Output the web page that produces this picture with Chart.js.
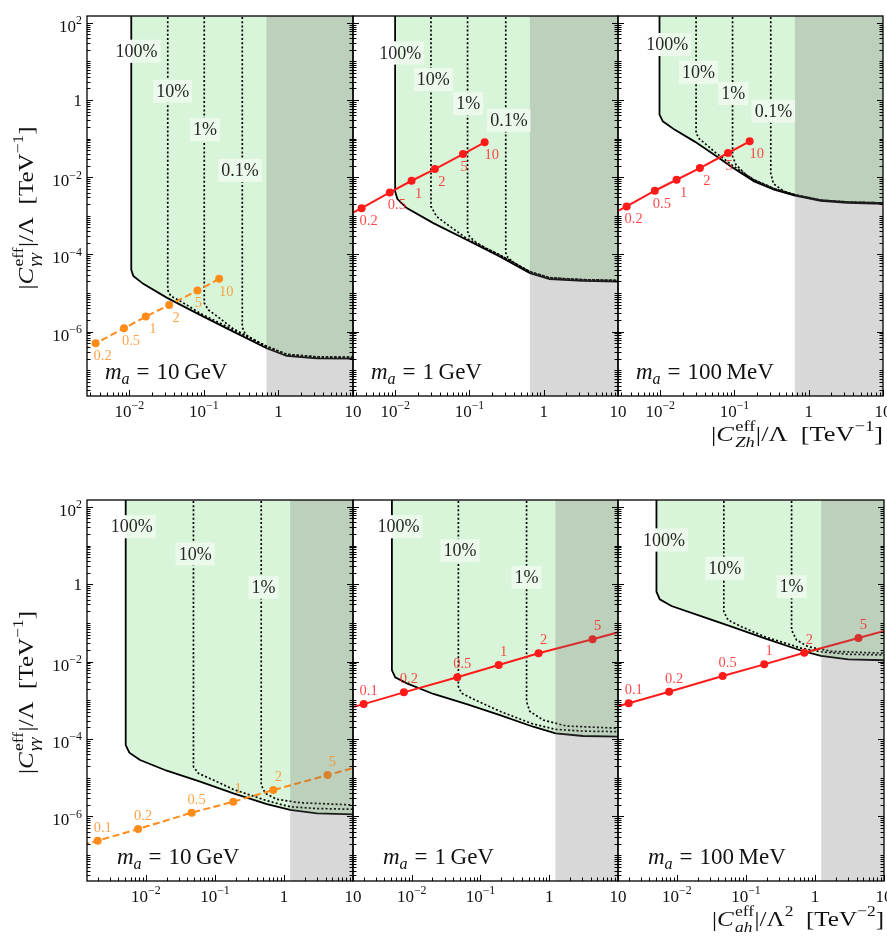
<!DOCTYPE html>
<html><head><meta charset="utf-8">
<script src="https://cdn.jsdelivr.net/npm/chart.js@4.4.1/dist/chart.umd.min.js"></script>
<style>
html,body{margin:0;padding:0;background:#fff;}
#wrap{position:relative;width:887px;height:938px;overflow:hidden;}
#wrap canvas{position:absolute;left:0;top:0;}
</style></head><body><div id="wrap"></div>
<script>
// ================= DATA =================
// axis ranges
const zhAxisRange = [2.7e-3, 10];      // |C_Zh|/Lambda  [TeV^-1]  (top row)
const ahAxisRange = [1.4e-3, 10];      // |C_ah|/Lambda^2 [TeV^-2] (bottom row)
const gammaAxisRange = [2.15e-8, 150]; // |C_gg|/Lambda [TeV^-1]
const xTickValues = [1e-2, 1e-1, 1, 10];
const xTickText = [['10','−2'],['10','−1'],['1',''],['10','']];
const yTickValues = [1e2, 1, 1e-2, 1e-4, 1e-6];
const yTickText = [['10','2'],['1',''],['10','−2'],['10','−4'],['10','−6']];
const massLabels = ['10\u2009GeV', '1\u2009GeV', '100\u2009MeV'];

// benchmark lines (top row: x = C_Zh, markers labelled by parameter)
const zhParam = ['0.2','0.5','1','2','5','10'];
const zhCoupling = [3.53e-3, 8.46e-3, 0.0166, 0.0342, 0.0818, 0.160];
const zhLeadIn = 1.77e-3;
const cggZh10GeV  = [2.5e-7, 5.0e-7, 1.22e-6, 2.45e-6, 4.92e-6, 1.16e-5, 2.33e-5];
const cggZh1GeV   = [7.9e-4, 1.58e-3, 4.03e-3, 8.1e-3, 0.0163, 0.0399, 0.080];
const cggZh100MeV = [8.75e-4, 1.75e-3, 4.46e-3, 8.6e-3, 0.0173, 0.0424, 0.0848];

// bottom row: x = C_ah
const ahParam = ['0.1','0.2','0.5','1','2','5'];
const ahCoupling = [2.0e-3, 7.7e-3, 0.046, 0.184, 0.70, 4.27];
const ahLeadIn = 1.2e-3, ahTail = 11.5;
const cggAh10GeV  = [1.82e-7, 2.36e-7, 4.73e-7, 1.25e-6, 2.4e-6, 4.81e-6, 1.17e-5, 1.9e-5];
const cggAh1GeV   = [6.2e-4, 8.0e-4, 1.61e-3, 3.93e-3, 8.2e-3, 0.0164, 0.0377, 0.061];
const cggAh100MeV = [6.5e-4, 8.4e-4, 1.67e-3, 4.25e-3, 8.5e-3, 0.017, 0.0407, 0.066];

// sensitivity boundaries (100%) and contours (10%, 1%, 0.1%)  [x, y]
const boundZh10GeV = [[0.0106,300],[0.0106,4.0e-5],[0.01127,2.78e-5],[0.01535,1.73e-5],[0.0316,7.6e-6],[0.0885,2.71e-6],[0.248,1.0e-6],[0.695,3.7e-7],[1.29,2.34e-7],[3.26,2.04e-7],[10.5,2.0e-7]];
const c10Zh10GeV  = [[0.0327,300],[0.0327,1.2e-5],[0.0358,8.4e-6],[0.0478,6.25e-6],[0.0885,3.0e-6],[0.248,1.12e-6],[0.695,4.1e-7],[1.29,2.55e-7],[3.26,2.2e-7],[10.5,2.15e-7]];
const c1Zh10GeV   = [[0.101,300],[0.101,5.5e-6],[0.1146,3.66e-6],[0.164,2.2e-6],[0.248,1.18e-6],[0.695,4.2e-7],[1.29,2.6e-7],[3.26,2.22e-7],[10.5,2.17e-7]];
const c01Zh10GeV  = [[0.327,300],[0.327,1.3e-6],[0.36,8.5e-7],[0.45,6.2e-7],[0.695,4.1e-7],[1.29,2.55e-7],[3.26,2.2e-7],[10.5,2.15e-7]];

const boundZh1GeV = [[0.00997,300],[0.00997,4.28e-3],[0.0107,2.72e-3],[0.0143,1.58e-3],[0.0326,6.47e-4],[0.0914,2.39e-4],[0.255,8.8e-5],[0.652,3.27e-5],[1.2,2.29e-5],[3.35,2.07e-5],[10.5,1.98e-5]];
const c10Zh1GeV  = [[0.0303,300],[0.0303,1.75e-3],[0.0361,9.6e-4],[0.0546,5.3e-4],[0.0914,2.6e-4],[0.255,9.6e-5],[0.652,3.55e-5],[1.2,2.45e-5],[3.35,2.2e-5],[10.5,2.1e-5]];
const c1Zh1GeV   = [[0.0942,300],[0.0942,4.0e-4],[0.1,2.9e-4],[0.12,2.1e-4],[0.16,1.5e-4],[0.255,9.7e-5],[0.652,3.6e-5],[1.2,2.5e-5],[3.35,2.22e-5],[10.5,2.12e-5]];
const c01Zh1GeV  = [[0.308,300],[0.308,1.1e-4],[0.33,8.2e-5],[0.4,6.0e-5],[0.525,4.4e-5],[0.652,3.5e-5],[1.2,2.45e-5],[3.35,2.2e-5],[10.5,2.1e-5]];

const boundZh100MeV = [[0.00978,300],[0.00978,0.418],[0.01084,0.28],[0.01556,0.171],[0.0288,0.0848],[0.0535,0.0383],[0.0897,0.019],[0.184,7.8e-3],[0.342,4.73e-3],[0.653,3.31e-3],[1.45,2.45e-3],[3.29,2.18e-3],[10.5,2.05e-3]];
const c10Zh100MeV  = [[0.0304,300],[0.0304,0.14],[0.0337,0.0977],[0.0436,0.0656],[0.0535,0.046],[0.0897,0.0215],[0.184,8.4e-3],[0.342,5.05e-3],[0.653,3.5e-3],[1.45,2.55e-3],[3.29,2.28e-3],[10.5,2.15e-3]];
const c1Zh100MeV   = [[0.0942,300],[0.0942,0.0347],[0.1047,0.0211],[0.1426,0.0116],[0.184,8.6e-3],[0.342,5.1e-3],[0.653,3.5e-3],[1.45,2.55e-3],[3.29,2.28e-3],[10.5,2.15e-3]];
const c01Zh100MeV  = [[0.308,300],[0.308,0.0128],[0.334,6.8e-3],[0.466,4.28e-3],[0.653,3.5e-3],[1.45,2.55e-3],[3.29,2.28e-3],[10.5,2.15e-3]];

const boundAh10GeV = [[5.09e-3,300],[5.09e-3,7.0e-5],[5.75e-3,4.43e-5],[8.22e-3,2.87e-5],[0.02,1.52e-5],[0.061,7.9e-6],[0.185,3.95e-6],[0.566,2.09e-6],[1.23,1.47e-6],[3.0,1.2e-6],[11,1.13e-6]];
const c10Ah10GeV  = [[0.0488,300],[0.0488,1.93e-5],[0.0575,1.3e-5],[0.095,8.7e-6],[0.185,5.0e-6],[0.566,2.55e-6],[1.23,1.78e-6],[3.0,1.6e-6],[11,1.53e-6]];
const c1Ah10GeV   = [[0.468,300],[0.468,6.5e-6],[0.535,3.95e-6],[0.79,2.77e-6],[1.72,2.26e-6],[11,1.97e-6]];

const boundAh1GeV = [[5.15e-3,300],[5.15e-3,6.07e-3],[5.75e-3,3.93e-3],[8.5e-3,2.75e-3],[0.0207,1.46e-3],[0.063,8.0e-4],[0.192,4.17e-4],[0.583,2.08e-4],[1.24,1.4e-4],[3.1,1.2e-4],[11,1.15e-4]];
const c10Ah1GeV  = [[0.0477,300],[0.0477,2.25e-3],[0.0533,1.52e-3],[0.088,9.8e-4],[0.192,5.2e-4],[0.583,2.45e-4],[1.24,1.78e-4],[3.1,1.6e-4],[11,1.55e-4]];
const c1Ah1GeV   = [[0.468,300],[0.468,9.2e-4],[0.522,5.2e-4],[0.815,3.1e-4],[1.78,2.17e-4],[11,1.89e-4]];

const boundAh100MeV = [[5.05e-3,300],[5.05e-3,0.641],[5.64e-3,0.407],[8.34e-3,0.274],[0.0202,0.16],[0.0618,0.0798],[0.188,0.04],[0.64,0.0191],[1.22,0.014],[3.03,0.01146],[11,0.0108]];
const c10Ah100MeV  = [[0.0478,300],[0.0478,0.195],[0.0552,0.119],[0.0863,0.0798],[0.188,0.044],[0.64,0.0221],[1.22,0.018],[3.03,0.0155],[11,0.0148]];
const c1Ah100MeV   = [[0.458,300],[0.458,0.0656],[0.542,0.0361],[0.798,0.0243],[1.74,0.0185],[11,0.0164]];

// contour label anchors [text, x, y]
const pctZh10GeV  = [['100%',0.0125,18.3],['10%',0.0381,1.68],['1%',0.103,0.171],['0.1%',0.305,0.015]];
const pctZh1GeV   = [['100%',0.01164,16.6],['10%',0.0326,3.38],['1%',0.096,0.805],['0.1%',0.34,0.297]];
const pctZh100MeV = [['100%',0.0124,27.3],['10%',0.0327,5.22],['1%',0.0962,1.47],['0.1%',0.334,0.509]];
const pctAh10GeV  = [['100%',6.22e-3,30.7],['10%',0.0516,6.04],['1%',0.505,0.83]];
const pctAh1GeV   = [['100%',6.4e-3,30.7],['10%',0.0503,7.35],['1%',0.468,1.51]];
const pctAh100MeV = [['100%',6.5e-3,13.9],['10%',0.0494,2.58],['1%',0.458,0.863]];

// start of excluded (grey) band in x
const greyStartZh = [0.69, 0.65, 0.65];
const greyStartAh = [1.23, 1.23, 1.23];

// ================= STYLE / LAYOUT =================
const W = 887, H = 938;
const colL = [87, 353, 618], colR = [353, 618, 884];
const rowT = [16, 500], rowB = [396, 881];
const SERIF = '"Liberation Serif","Times New Roman",serif';
const GREEN = '#d9f5d9';
const GREY = 'rgba(105,105,105,0.26)';
const ORANGE = '#ff8c1a', RED = '#ff1a1a';
function font(size, it){ return (it?'italic ':'') + size.toFixed(2) + 'px ' + SERIF; }

function richWidth(ctx, segs, size){
  let w = 0;
  for (const s of segs){
    if (s.stack){ let m=0; for (const t of s.stack){ ctx.font=font(size*(t.sc||1),t.it); m=Math.max(m,ctx.measureText(t.t).width);} w+=m+(s.gap||0)*size; }
    else { ctx.font=font(size*(s.sc||1),s.it); w+=ctx.measureText(s.t).width+(s.gap||0)*size; }
  }
  return w;
}
function richDraw(ctx, segs, x, y, size){
  ctx.textAlign='left'; ctx.textBaseline='alphabetic';
  for (const s of segs){
    if (s.stack){ let m=0; for (const t of s.stack){ ctx.font=font(size*(t.sc||1),t.it); ctx.fillText(t.t,x,y+(t.dy||0)*size); m=Math.max(m,ctx.measureText(t.t).width);} x+=m+(s.gap||0)*size; }
    else { ctx.font=font(size*(s.sc||1),s.it); ctx.fillText(s.t,x,y+(s.dy||0)*size); x+=ctx.measureText(s.t).width+(s.gap||0)*size; }
  }
}
// draw rich text, optionally stretched to a target width; align: 'left'|'right'|'center'
function richFit(ctx, segs, x, y, size, target, align){
  const w = richWidth(ctx, segs, size);
  const sx = target ? target / w : 1;
  ctx.save();
  ctx.translate(x, y); ctx.scale(sx, 1);
  const x0 = align==='right' ? -w : align==='center' ? -w/2 : 0;
  richDraw(ctx, segs, x0, 0, size);
  ctx.restore();
}
function powSegs(p){ const s=[{t:p[0]}]; if (p[1]) s.push({t:p[1], sc:0.7, dy:-0.45}); return s; }

const yTitle = [{t:'|'},{t:'C',it:true,gap:0.05},{stack:[{t:'eff',sc:0.7,dy:-0.45},{t:'γγ',it:true,sc:0.7,dy:0.3}],gap:0.02},{t:'|/Λ  [TeV'},{t:'−1',sc:0.7,dy:-0.45},{t:']'}];
const xTitleZh = [{t:'|'},{t:'C',it:true,gap:0.05},{stack:[{t:'eff',sc:0.7,dy:-0.45},{t:'Zh',it:true,sc:0.7,dy:0.3}],gap:0.02},{t:'|/Λ  [TeV'},{t:'−1',sc:0.7,dy:-0.45},{t:']'}];
const xTitleAh = [{t:'|'},{t:'C',it:true,gap:0.05},{stack:[{t:'eff',sc:0.7,dy:-0.45},{t:'ah',it:true,sc:0.7,dy:0.3}],gap:0.02},{t:'|/Λ'},{t:'2',sc:0.7,dy:-0.45},{t:'  [TeV'},{t:'−2',sc:0.7,dy:-0.45},{t:']'}];

function pts(a){ return a.map(p=>({x:p[0], y:p[1]})); }
function linePts(xs, ys){ return xs.map((x,i)=>({x, y:ys[i]})); }

const panels = [
  {row:0,col:0,xr:zhAxisRange,mass:massLabels[0],bound:boundZh10GeV,cont:[c10Zh10GeV,c1Zh10GeV,c01Zh10GeV],pct:pctZh10GeV,grey:greyStartZh[0],
   lx:[zhLeadIn,...zhCoupling],ly:cggZh10GeV,params:zhParam,color:ORANGE,dash:[7,3.5],lead:1,tail:0},
  {row:0,col:1,xr:zhAxisRange,mass:massLabels[1],bound:boundZh1GeV,cont:[c10Zh1GeV,c1Zh1GeV,c01Zh1GeV],pct:pctZh1GeV,grey:greyStartZh[1],
   lx:[zhLeadIn,...zhCoupling],ly:cggZh1GeV,params:zhParam,color:RED,dash:[],lead:1,tail:0},
  {row:0,col:2,xr:zhAxisRange,mass:massLabels[2],bound:boundZh100MeV,cont:[c10Zh100MeV,c1Zh100MeV,c01Zh100MeV],pct:pctZh100MeV,grey:greyStartZh[2],
   lx:[zhLeadIn,...zhCoupling],ly:cggZh100MeV,params:zhParam,color:RED,dash:[],lead:1,tail:0},
  {row:1,col:0,xr:ahAxisRange,mass:massLabels[0],bound:boundAh10GeV,cont:[c10Ah10GeV,c1Ah10GeV],pct:pctAh10GeV,grey:greyStartAh[0],
   lx:[ahLeadIn,...ahCoupling,ahTail],ly:cggAh10GeV,params:ahParam,color:ORANGE,dash:[7,3.5],lead:1,tail:1},
  {row:1,col:1,xr:ahAxisRange,mass:massLabels[1],bound:boundAh1GeV,cont:[c10Ah1GeV,c1Ah1GeV],pct:pctAh1GeV,grey:greyStartAh[1],
   lx:[ahLeadIn,...ahCoupling,ahTail],ly:cggAh1GeV,params:ahParam,color:RED,dash:[],lead:1,tail:1},
  {row:1,col:2,xr:ahAxisRange,mass:massLabels[2],bound:boundAh100MeV,cont:[c10Ah100MeV,c1Ah100MeV],pct:pctAh100MeV,grey:greyStartAh[2],
   lx:[ahLeadIn,...ahCoupling,ahTail],ly:cggAh100MeV,params:ahParam,color:RED,dash:[],lead:1,tail:1},
];

const PCT_FONT = 18;
function makePlugin(s){
  let boxes = [];
  return {
    id: 'panel' + s.row + s.col,
    beforeDatasetsDraw(chart){
      const ctx = chart.ctx, xs = chart.scales.x, ys = chart.scales.y;
      ctx.save(); ctx.font = font(PCT_FONT);
      boxes = s.pct.map(([t,x,y])=>{
        const px = xs.getPixelForValue(x), py = ys.getPixelForValue(y);
        const w = ctx.measureText(t).width + 6, h = 23;
        return {t, px, py, x:px-w/2, y:py-h/2, w, h};
      });
      ctx.restore();
    },
    beforeDatasetDraw(chart, args){
      const ds = chart.data.datasets[args.index];
      if (!ds.cut) return;
      const ctx = chart.ctx, a = chart.chartArea;
      ctx.save(); ctx.beginPath();
      ctx.rect(a.left, a.top, a.right-a.left, a.bottom-a.top);
      boxes.forEach(b=>ctx.rect(b.x, b.y, b.w, b.h));
      ctx.clip('evenodd');
    },
    afterDatasetDraw(chart, args){
      if (chart.data.datasets[args.index].cut) chart.ctx.restore();
    },
    afterDatasetsDraw(chart){
      const ctx = chart.ctx, a = chart.chartArea, xs = chart.scales.x, ys = chart.scales.y;
      // excluded band
      const gx = xs.getPixelForValue(s.grey);
      ctx.save();
      ctx.fillStyle = GREY; ctx.fillRect(gx, a.top, a.right-gx, a.bottom-a.top);
      // contour labels
      boxes.forEach(b=>{
        ctx.fillStyle = 'rgba(255,255,255,0.5)'; ctx.fillRect(b.x, b.y, b.w, b.h);
        ctx.fillStyle = '#262626'; ctx.font = font(PCT_FONT); ctx.textAlign='center'; ctx.textBaseline='middle';
        ctx.fillText(b.t, b.px, b.py+1);
      });
      // marker labels
      ctx.save();
      ctx.beginPath(); ctx.rect(a.left, a.top, a.right-a.left, a.bottom-a.top); ctx.clip();
      ctx.font = font(14.5); ctx.textAlign='center'; ctx.textBaseline='middle';
      ctx.fillStyle = s.color; ctx.globalAlpha = 0.8;
      s.params.forEach((t,i)=>{
        const px = xs.getPixelForValue(s.lx[i+s.lead]), py = ys.getPixelForValue(s.ly[i+s.lead]);
        if (s.row===0) ctx.fillText(t, px + (t==='5'?1:7), py + 13);
        else ctx.fillText(t, px + 5, py - 13);
      });
      ctx.restore();
      // mass label
      ctx.fillStyle = '#111';
      richFit(ctx, [{t:'m',it:true},{t:'a',it:true,sc:0.7,dy:0.22,gap:0.3},{t:'=',gap:0.3},{t:s.mass}],
              a.left + (s.row===0?18:30), a.bottom - 17, 23, null, 'left');
      ctx.restore();
    },
    afterDraw(chart){
      const ctx = chart.ctx, a = chart.chartArea, xs = chart.scales.x, ys = chart.scales.y;
      ctx.save();
      ctx.strokeStyle = '#000'; ctx.lineWidth = 1;
      // ticks (inward)
      ctx.beginPath();
      const [xmin,xmax] = s.xr;
      for (let d = Math.floor(Math.log10(xmin)); d <= Math.ceil(Math.log10(xmax)); d++){
        for (let k=1;k<=9;k++){
          const v = k*Math.pow(10,d); if (v < xmin*0.999 || v > xmax*1.001) continue;
          const px = Math.round(xs.getPixelForValue(v))+0.5;
          const L = (k===1) ? 6 : 3.5;
          ctx.moveTo(px, a.bottom); ctx.lineTo(px, a.bottom-L);
        }
      }
      const [ymin,ymax] = gammaAxisRange;
      for (let d = Math.floor(Math.log10(ymin)); d <= Math.ceil(Math.log10(ymax)); d++){
        for (let k=1;k<=9;k++){
          const v = k*Math.pow(10,d); if (v < ymin || v > ymax) continue;
          const py = Math.round(ys.getPixelForValue(v))+0.5;
          const major = (k===1 && yTickValues.includes(v));
          const L = major ? 6 : 3.5;
          ctx.moveTo(a.left, py); ctx.lineTo(a.left+L, py);
          ctx.moveTo(a.right, py); ctx.lineTo(a.right-L, py);
        }
      }
      ctx.stroke();
      // frame
      ctx.lineWidth = 1.3;
      ctx.strokeRect(a.left, a.top, a.right-a.left, a.bottom-a.top);
      // tick labels
      ctx.fillStyle = '#111';
      xTickValues.forEach((v,i)=>{
        const px = xs.getPixelForValue(v);
        const segs = powSegs(xTickText[i]);
        richFit(ctx, segs, px, a.bottom + 21, 17, null, 'center');
      });
      if (s.col===0){
        yTickValues.forEach((v,i)=>{
          const py = ys.getPixelForValue(v);
          const segs = powSegs(yTickText[i]);
          richFit(ctx, segs, a.left - 5, py + (yTickText[i][1] ? 9 : 6), 17, null, 'right');
        });
        // y title
        ctx.save();
        ctx.translate(33, (a.top + a.bottom)/2 + 2);
        ctx.rotate(-Math.PI/2);
        richFit(ctx, yTitle, 0, 0, 21.5, 163, 'center');
        ctx.restore();
      }
      if (s.col===2){
        richFit(ctx, s.row===0 ? xTitleZh : xTitleAh, a.right, a.bottom + 45, 21.5, 172, 'right');
      }
      ctx.restore();
    }
  };
}

const wrap = document.getElementById('wrap');
panels.forEach(s=>{
  const c = document.createElement('canvas');
  c.width = W; c.height = H; c.style.width = W+'px'; c.style.height = H+'px';
  wrap.appendChild(c);
  const datasets = [
    { data: linePts(s.lx, s.ly), showLine: true, borderColor: s.color, borderWidth: 2, borderDash: s.dash,
      pointRadius: s.ly.map((_,i)=> (i < s.lead || i >= s.ly.length - s.tail) ? 0 : 4),
      pointBackgroundColor: s.color, pointBorderWidth: 0, fill: false },
    ...s.cont.map(cn => ({ data: pts(cn), showLine: true, borderColor: '#000', borderWidth: 1.7,
      borderDash: [2, 2.2], pointRadius: 0, fill: false, cut: true })),
    { data: pts(s.bound), showLine: true, borderColor: '#000', borderWidth: 1.8, pointRadius: 0,
      fill: 'end', backgroundColor: GREEN, cut: true }
  ];
  new Chart(c, {
    type: 'scatter',
    data: { datasets },
    options: {
      responsive: false, animation: false, devicePixelRatio: 1, events: [],
      layout: { padding: { left: colL[s.col], right: W - colR[s.col], top: rowT[s.row], bottom: H - rowB[s.row] } },
      scales: {
        x: { type: 'logarithmic', min: s.xr[0], max: s.xr[1], display: false },
        y: { type: 'logarithmic', min: gammaAxisRange[0], max: gammaAxisRange[1], display: false }
      },
      plugins: { legend: { display: false }, tooltip: { enabled: false }, filler: { drawTime: 'beforeDatasetsDraw' } }
    },
    plugins: [makePlugin(s)]
  });
});
</script></body></html>
